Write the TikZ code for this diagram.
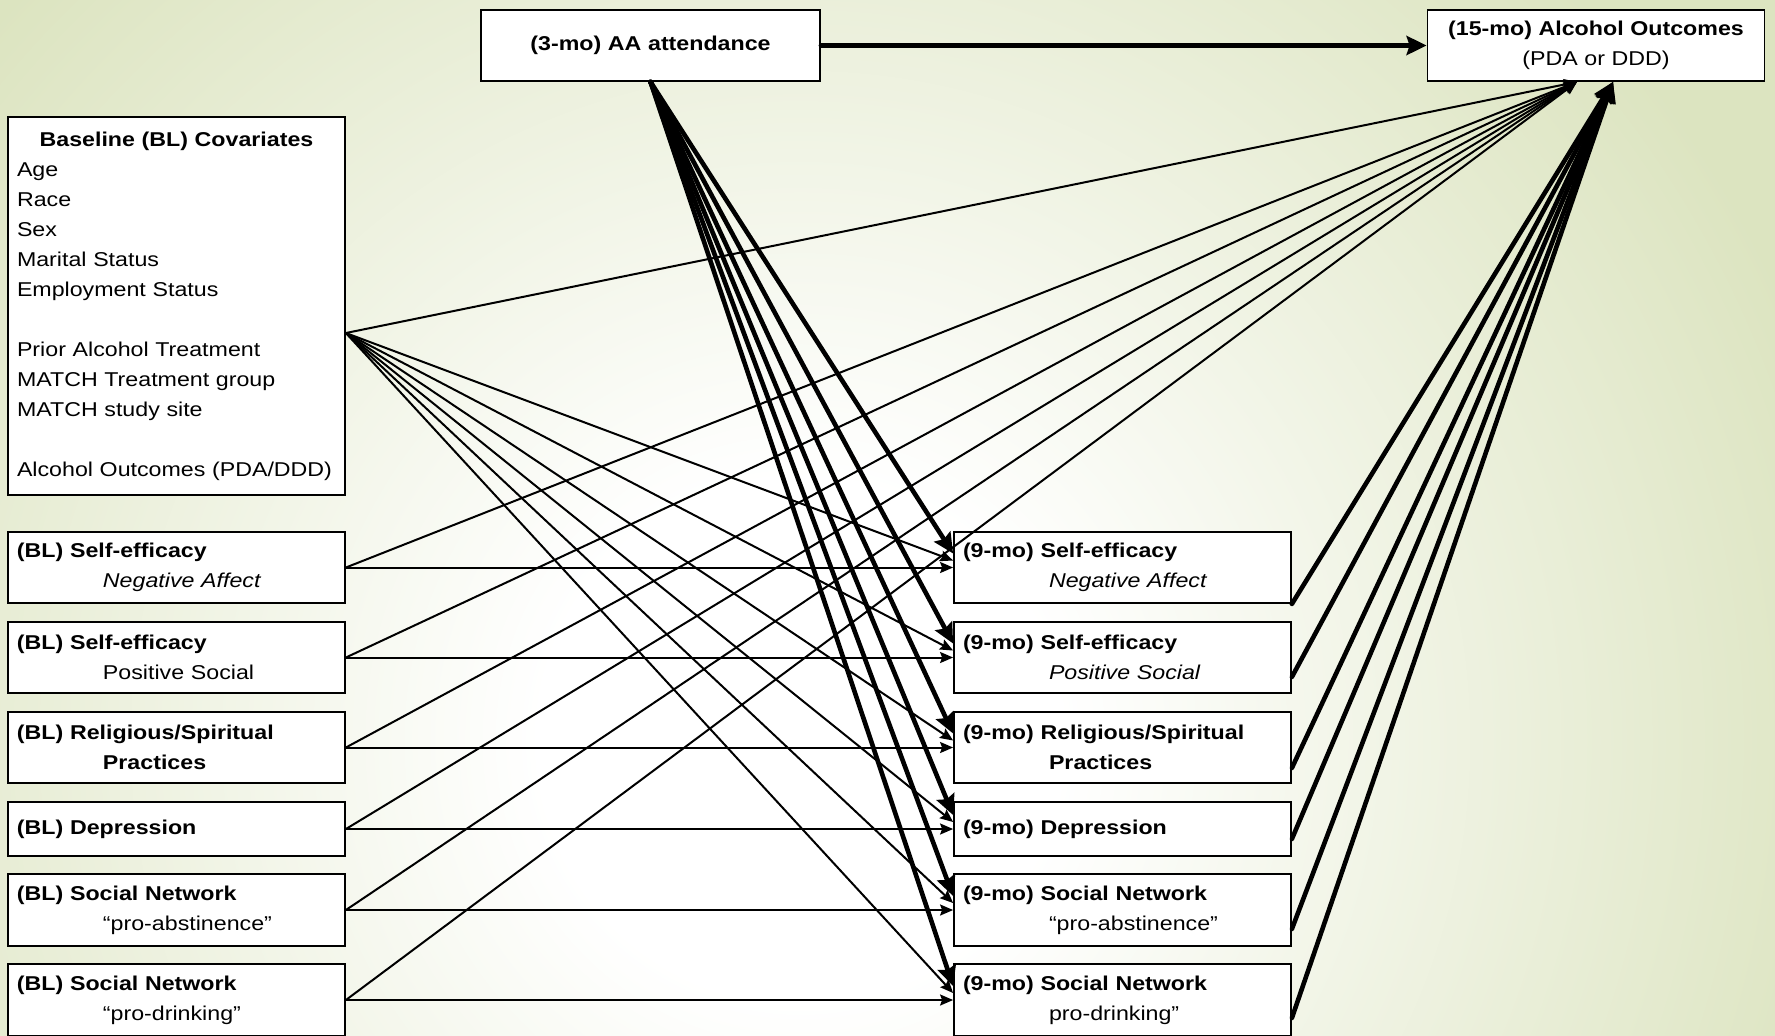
\documentclass[tikz,border=0pt]{standalone}
\usepackage{fontspec}
\setmainfont[FakeStretch=1.16]{Liberation Sans}
\usetikzlibrary{arrows.meta,calc}
\definecolor{bggreen}{RGB}{220,228,192}
\pgfdeclareradialshading{bgshade}{\pgfpoint{0bp}{0bp}}{color(0bp)=(white); color(6bp)=(white); color(25bp)=(bggreen); color(50bp)=(bggreen)}
\begin{document}
\begin{tikzpicture}[x=0.5pt,y=-0.5pt,
  box/.style={draw, line width=0.9pt, fill=white, inner xsep=4.5pt, inner ysep=0pt,
    text width=159.5pt, align=left, font=\fontsize{10pt}{15pt}\selectfont},
  cbox/.style={box, align=center},
  thinarr/.style={line width=1pt, -{Stealth[length=6.5pt,width=5.5pt,inset=1pt]}},
  thickarr/.style={line width=2.3pt, line cap=round, -{Stealth[length=10pt,width=9.5pt,inset=1.5pt]}}
]
\useasboundingbox (0,0) rectangle (1775,1035);
\fill[bggreen] (0,0) rectangle (1775,1035);
\begin{scope}
  \clip (0,0) rectangle (1775,1035);
  \shade[shading=bgshade] (800,740) circle (540pt);
\end{scope}

% top boxes
\node[cbox, text width=160.5pt, minimum height=35.5pt] (aa) at (650.5,45.5) {\textbf{(3-mo) AA attendance}};
\node[cbox, minimum height=35.5pt] (out) at (1596,45.5) {\textbf{(15-mo) Alcohol Outcomes}\\(PDA or DDD)};

% baseline covariates
\node[box, minimum height=189pt] (bl) at (176.5,306) {\makebox[159.5pt][c]{\textbf{Baseline (BL) Covariates}}\\
Age\\Race\\Sex\\Marital Status\\Employment Status\\[15pt]
Prior Alcohol Treatment\\MATCH Treatment group\\MATCH study site\\[15pt]
Alcohol Outcomes (PDA/DDD)};

% left boxes
\node[box, minimum height=35.5pt] (l1) at (176.5,567.5) {\textbf{(BL) Self-efficacy}\\\hspace*{43pt}\textit{Negative Affect}};
\node[box, minimum height=35.5pt] (l2) at (176.5,657.5) {\textbf{(BL) Self-efficacy}\\\hspace*{43pt}Positive Social};
\node[box, minimum height=35.5pt] (l3) at (176.5,747.5) {\textbf{(BL) Religious/Spiritual}\\\hspace*{43pt}\textbf{Practices}};
\node[box, minimum height=27pt] (l4) at (176.5,829) {\textbf{(BL) Depression}};
\node[box, minimum height=36pt] (l5) at (176.5,910) {\textbf{(BL) Social Network}\\\hspace*{43pt}“pro-abstinence”};
\node[box, minimum height=36pt] (l6) at (176.5,1000) {\textbf{(BL) Social Network}\\\hspace*{43pt}“pro-drinking”};

% right boxes
\node[box, minimum height=35.5pt] (r1) at (1122.5,567.5) {\textbf{(9-mo) Self-efficacy}\\\hspace*{43pt}\textit{Negative Affect}};
\node[box, minimum height=35.5pt] (r2) at (1122.5,657.5) {\textbf{(9-mo) Self-efficacy}\\\hspace*{43pt}\textit{Positive Social}};
\node[box, minimum height=35.5pt] (r3) at (1122.5,747.5) {\textbf{(9-mo) Religious/Spiritual}\\\hspace*{43pt}\textbf{Practices}};
\node[box, minimum height=27pt] (r4) at (1122.5,829) {\textbf{(9-mo) Depression}};
\node[box, minimum height=36pt] (r5) at (1122.5,910) {\textbf{(9-mo) Social Network}\\\hspace*{43pt}“pro-abstinence”};
\node[box, minimum height=36pt] (r6) at (1122.5,1000) {\textbf{(9-mo) Social Network}\\\hspace*{43pt}pro-drinking”};

% connector end points
\coordinate (blsrc) at ($(bl.east)+(0,27)$);
\coordinate (outthin) at ($(out.south)+(-19,0)$);
\coordinate (outthick) at ($(out.south)+(17,0)$);
\coordinate (s1) at (r1.south east);
\coordinate (s2) at ($(r2.south east)+(0,-17)$);
\coordinate (s3) at ($(r3.south east)+(0,-16)$);
\coordinate (s4) at ($(r4.south east)+(0,-18)$);
\coordinate (s5) at ($(r5.south east)+(0,-18)$);
\coordinate (s6) at ($(r6.south east)+(0,-19)$);

% connectors
\draw[thinarr] (blsrc) -- (outthin);
\foreach \i in {1,...,6} {
  \draw[thinarr] (l\i.east) -- (r\i.west);
  \draw[thinarr] (l\i.east) -- (outthin);
  \draw[thinarr] (blsrc) -- ($(r\i.west)+(0,-7)$);
}
\foreach \i in {1,...,6} {
  \draw[thickarr] (aa.south) -- ($(r\i.west)+(0,-14)$);
  \draw[thickarr] (s\i) -- (outthick);
}
\draw[thickarr] (aa.east) -- (out.west);
\end{tikzpicture}
\end{document}
